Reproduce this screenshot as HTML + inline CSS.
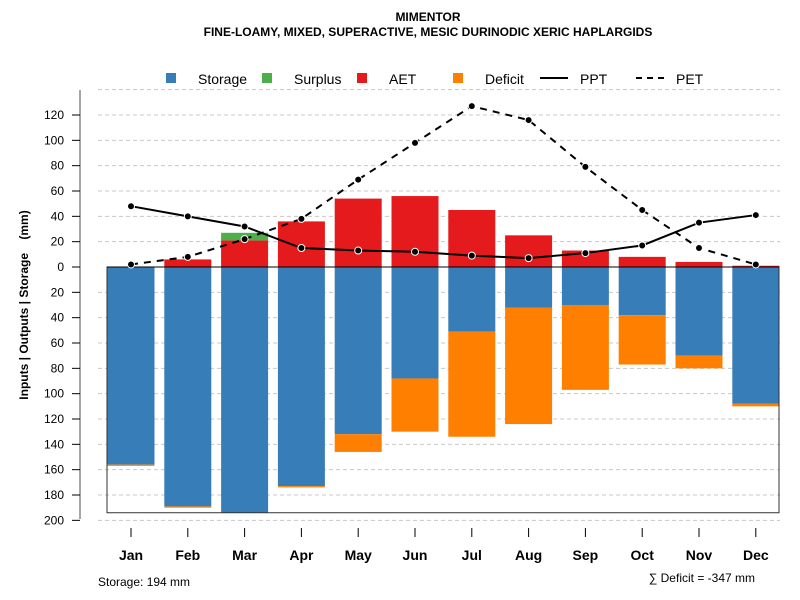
<!DOCTYPE html>
<html><head><meta charset="utf-8"><style>
body{margin:0;background:#fff}
svg{display:block;font-family:"Liberation Sans",Arial,sans-serif}
</style></head><body>
<svg id="chart" width="800" height="600" viewBox="0 0 800 600">
<text x="428" y="21" text-anchor="middle" font-size="12" font-weight="bold">MIMENTOR</text>
<text x="428" y="36" text-anchor="middle" font-size="12" font-weight="bold">FINE-LOAMY, MIXED, SUPERACTIVE, MESIC DURINODIC XERIC HAPLARGIDS</text>
<g id="grid"></g>
<g id="bars"></g>
<g id="lines"></g>
<g id="yaxis"></g>
<g id="xaxis"></g>
<text transform="translate(28,305) rotate(-90)" text-anchor="middle" font-size="12" font-weight="bold" style="white-space:pre" xml:space="preserve">Inputs | Outputs | Storage    (mm)</text>
<g font-size="14">
<rect x="166" y="73" width="10" height="10" fill="#377EB8"/>
<text x="198" y="84">Storage</text>
<rect x="262" y="73" width="10" height="10" fill="#4DAF4A"/>
<text x="294" y="84">Surplus</text>
<rect x="357" y="73" width="10" height="10" fill="#E41A1C"/>
<text x="389" y="84">AET</text>
<rect x="453" y="73" width="10" height="10" fill="#FF7F00"/>
<text x="485" y="84">Deficit</text>
<line x1="540" y1="78" x2="568" y2="78" stroke="#000" stroke-width="2"/>
<text x="580" y="84">PPT</text>
<line x1="636" y1="78" x2="664" y2="78" stroke="#000" stroke-width="2" stroke-dasharray="6,5"/>
<text x="676" y="84">PET</text>
</g>
<text x="98" y="586" font-size="12">Storage: 194 mm</text>
<text x="755" y="582" text-anchor="end" font-size="12">∑ Deficit = -347 mm</text>
</svg>
<script>
const months=["Jan","Feb","Mar","Apr","May","Jun","Jul","Aug","Sep","Oct","Nov","Dec"];
const storage=[156,189,194,173,132,88,51,32,30,38,70,108];
const deficit=[1,1,0,1,14,42,83,92,67,39,10,2];
const aet=[0,6,21,36,54,56,45,25,13,8,4,1];
const surplus=[0,0,6,0,0,0,0,0,0,0,0,0];
const ppt=[48,40,32,15,13,12,9,7,11,17,35,41];
const pet=[2,8,22,38,69,98,127,116,79,45,15,2];
const yTicks=[120,100,80,60,40,20,0,-20,-40,-60,-80,-100,-120,-140,-160,-180,-200];
const NS="http://www.w3.org/2000/svg";
const y=v=>267-v*1.2667;
const x=i=>131+i*56.8;
const bw=47;
function mk(tag,attrs,parent){const e=document.createElementNS(NS,tag);for(const k in attrs)e.setAttribute(k,attrs[k]);document.getElementById(parent).appendChild(e);return e;}
for(let v=140;v>=-200;v-=20){if(v===0)continue;const g=mk('line',{x1:98,x2:780,y1:y(v),y2:y(v),stroke:'#c8c8c8','stroke-dasharray':'4,3'},'grid');

}
months.forEach((m,i)=>{
 const x0=x(i)-bw/2;
 let r=mk('rect',{x:x0,y:y(0),width:bw,height:y(-storage[i])-y(0),fill:'#377EB8'},'bars');
 
 
 if(deficit[i]>0){r=mk('rect',{x:x0,y:y(-storage[i]),width:bw,height:y(-storage[i]-deficit[i])-y(-storage[i]),fill:'#FF7F00'},'bars');
 
 }
 if(aet[i]>0){r=mk('rect',{x:x0,y:y(aet[i]),width:bw,height:y(0)-y(aet[i]),fill:'#E41A1C'},'bars');
 
 }
 if(surplus[i]>0){r=mk('rect',{x:x0,y:y(aet[i]+surplus[i]),width:bw,height:y(aet[i])-y(aet[i]+surplus[i]),fill:'#4DAF4A'},'bars');
 
 }
});
let bx=mk('rect',{x:107,y:y(0),width:672,height:y(-194)-y(0),fill:'none',stroke:'#333','stroke-width':1},'bars');


let zl=mk('line',{x1:107,x2:779,y1:y(0),y2:y(0),stroke:'#000','stroke-width':1},'bars');


function series(arr,name,dash){
 const p=mk('polyline',{points:arr.map((v,i)=>x(i)+','+y(v)).join(' '),fill:'none',stroke:'#000','stroke-width':2,'stroke-dasharray':dash},'lines');
 
 
 arr.forEach((v,i)=>{const c=mk('circle',{cx:x(i),cy:y(v),r:3.5,fill:'#000',stroke:'#fff','stroke-width':1},'lines');
 
 });
}
series(pet,'pet','7,6');
series(ppt,'ppt','none');
let ax=mk('line',{x1:80,x2:80,y1:90,y2:519,stroke:'#888','stroke-width':1.5},'yaxis');


yTicks.forEach(v=>{
 const t=mk('line',{x1:72,x2:80,y1:y(v),y2:y(v),stroke:'#000'},'yaxis');
 
 
 const l=mk('text',{x:64,y:y(v)+4,'text-anchor':'end','font-size':12},'yaxis');
 l.textContent=Math.abs(v);
 
 
});
months.forEach((m,i)=>{
 const t=mk('line',{x1:x(i),x2:x(i),y1:528,y2:537,stroke:'#000'},'xaxis');
 
 
 const l=mk('text',{x:x(i),y:560,'text-anchor':'middle','font-size':14,'font-weight':'bold'},'xaxis');
 l.textContent=m;
 
 
});
</script>
</body></html>
